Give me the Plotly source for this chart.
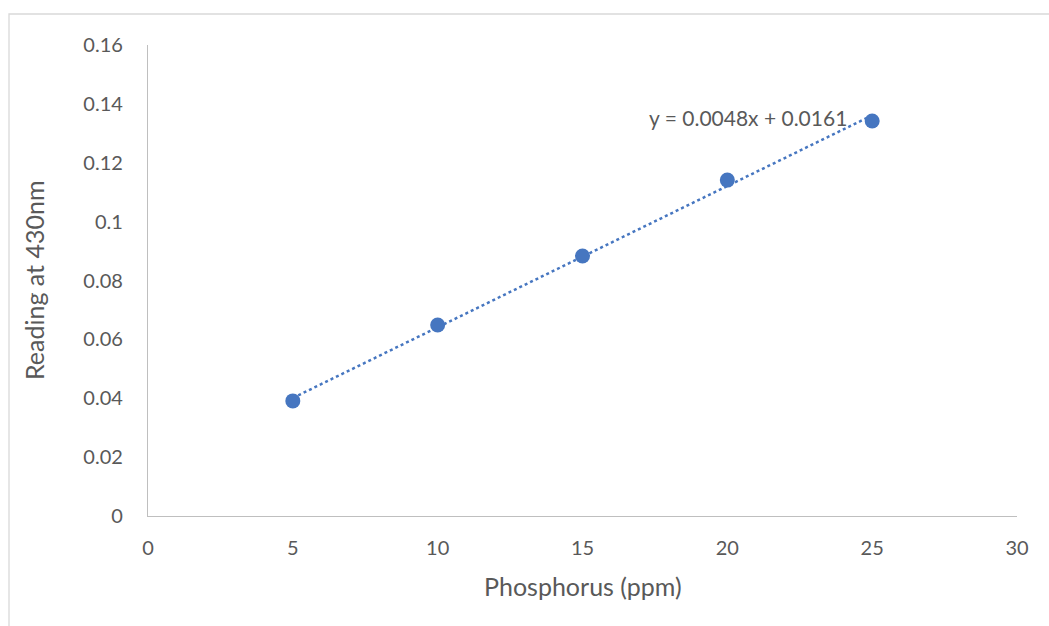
import plotly.graph_objects as go

# Calibration data: phosphorus standard concentrations vs absorbance
phosphorus_ppm = [5, 10, 15, 20, 25]
reading_430nm = [0.0391, 0.0649, 0.0883, 0.1141, 0.1342]

# Linear trendline coefficients (as shown in the equation label)
slope = 0.0048
intercept = 0.0161
trend_label = "y = 0.0048x + 0.0161"

x_ticks = [0, 5, 10, 15, 20, 25, 30]
y_ticks = [0, 0.02, 0.04, 0.06, 0.08, 0.1, 0.12, 0.14, 0.16]
y_tick_text = ["0", "0.02", "0.04", "0.06", "0.08", "0.1", "0.12", "0.14", "0.16"]

W, H = 1049, 626
L, R, T, B = 148, 32, 45, 110
pw, ph = W - L - R, H - T - B

blue = "#4676c0"
grey_text = "#595959"
axis_grey = "#bfbfbf"
font_family = "Lato, Open Sans, sans-serif"

trend_x = [phosphorus_ppm[0], phosphorus_ppm[-1]]
trend_y = [slope * v + intercept for v in trend_x]

fig = go.Figure()
fig.add_trace(go.Scatter(
    x=trend_x, y=trend_y, mode="lines",
    line=dict(color=blue, width=2.5, dash="dot"),
    hoverinfo="skip", showlegend=False,
))
fig.add_trace(go.Scatter(
    x=phosphorus_ppm, y=reading_430nm, mode="markers",
    marker=dict(color=blue, size=15, line=dict(width=0)),
    showlegend=False,
))

def px_x(p):
    return (p - L) / pw

def px_y(p):
    return (H - B - p) / ph

# chart-area border (top and left edges are visible)
fig.add_shape(type="path", xref="paper", yref="paper",
              path=f"M {px_x(9)} {px_y(640)} L {px_x(9)} {px_y(14)} L {px_x(1060)} {px_y(14)}",
              line=dict(color="#d9d9d9", width=1.3))

fig.update_layout(
    width=W, height=H,
    margin=dict(l=L, r=R, t=T, b=B),
    paper_bgcolor="white", plot_bgcolor="white",
    font=dict(family=font_family, color=grey_text, size=20),
    xaxis=dict(
        range=[0, 30], tickvals=x_ticks, showgrid=False, zeroline=False,
        showline=True, linecolor=axis_grey, linewidth=1.3,
        ticks="", ticklabelstandoff=14,
        tickfont=dict(size=20, color=grey_text),
    ),
    yaxis=dict(
        range=[0, 0.16], tickvals=y_ticks, ticktext=y_tick_text,
        showgrid=False, zeroline=False,
        showline=True, linecolor=axis_grey, linewidth=1.3,
        ticks="", ticklabelstandoff=20,
        tickfont=dict(size=20, color=grey_text),
    ),
    annotations=[
        dict(text="Phosphorus (ppm)", xref="paper", yref="paper",
             x=px_x(583), y=px_y(586), showarrow=False,
             xanchor="center", yanchor="middle",
             font=dict(size=25, color=grey_text)),
        dict(text="Reading at 430nm", xref="paper", yref="paper",
             x=px_x(34), y=px_y(280), showarrow=False, textangle=-90,
             xanchor="center", yanchor="middle",
             font=dict(size=25, color=grey_text)),
        dict(text=trend_label, xref="paper", yref="paper",
             x=px_x(849), y=px_y(118), showarrow=False,
             xanchor="right", yanchor="middle",
             font=dict(size=21, color=grey_text)),
    ],
)

fig.write_html("out.html")
